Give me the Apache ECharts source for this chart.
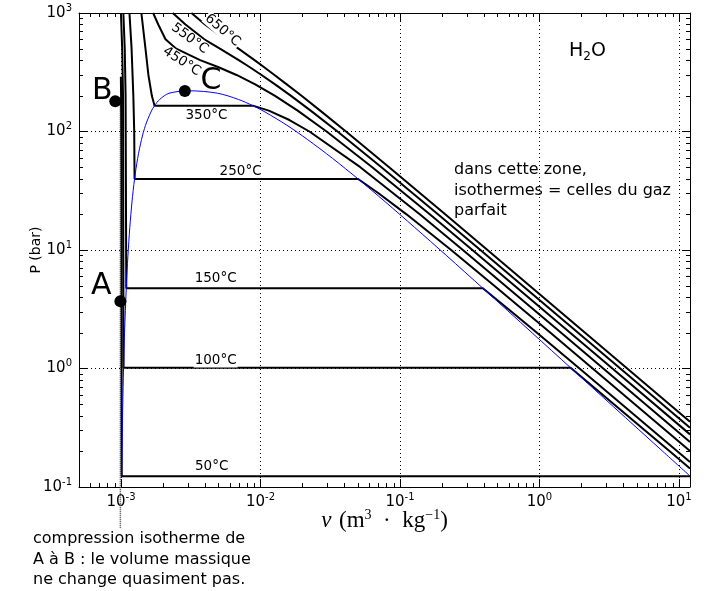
<!DOCTYPE html>
<html>
<head>
<meta charset="utf-8">
<title>Isothermes de l'eau</title>
<script src="https://cdn.jsdelivr.net/npm/echarts@6/dist/echarts.min.js"></script>
<style>
  html, body { margin: 0; padding: 0; background: #fff; }
  #chart { width: 705px; height: 591px; }
</style>
</head>
<body>
<div id="chart"></div>
<script>
// [v (m3/kg), P (bar)]
var iso50 = [[0.000998, 290], [0.001004, 150], [0.001009, 50], [0.001012, 0.1235], [12.03, 0.1235]];
var iso100 = [[0.000999, 1000], [0.001020, 500], [0.001034, 200], [0.001043, 1.014], [1.672, 1.014],
  [3.418, 0.5], [8.585, 0.2], [12, 0.1432]];
var iso150 = [[0.001040, 1000], [0.001064, 500], [0.001079, 200], [0.001091, 4.758], [0.3928, 4.758],
  [0.4708, 4], [0.6339, 3], [0.9596, 2], [1.9367, 1], [3.8897, 0.5], [12, 0.1625]];
var iso250 = [[0.001150, 1000], [0.001191, 500], [0.001226, 200], [0.001244, 100], [0.001251, 39.73],
  [0.05013, 39.73], [0.07058, 30], [0.1114, 20], [0.2327, 10], [0.4744, 5], [1.1988, 2], [2.406, 1], [12, 0.2010]];
var iso350 = [[0.001400, 1000], [0.001498, 500], [0.001572, 300], [0.001665, 200], [0.001740, 165.2],
  [0.008813, 165.2], [0.01147, 150], [0.01613, 125], [0.02242, 100], [0.05194, 50], [0.1386, 20],
  [0.2825, 10], [1.430, 2], [12, 0.2396]];
var iso450 = [[0.00170, 1000], [0.00185, 800], [0.002085, 600], [0.002486, 500], [0.003693, 400],
  [0.004961, 350], [0.006735, 300], [0.009166, 250], [0.01272, 200], [0.018477, 150], [0.029782, 100],
  [0.063291, 50], [0.1635, 20], [0.3304, 10], [3.334, 1], [12, 0.278]];
var iso550 = [[0.00235, 1000], [0.00290, 800], [0.003955, 600], [0.005118, 500], [0.006985, 400],
  [0.008345, 350], [0.010168, 300], [0.012724, 250], [0.01656, 200], [0.0229, 150], [0.03566, 100],
  [0.07365, 50], [0.1871, 20], [0.3772, 10], [3.798, 1], [12, 0.3166]];
var iso650 = [[0.0032, 1000], [0.0040, 800], [0.005595, 600], [0.006957, 500], [0.009063, 400],
  [0.010575, 350], [0.012596, 300], [0.015433, 250], [0.0197, 200], [0.0268, 150], [0.0410, 100],
  [0.0836, 50], [0.2110, 20], [0.4240, 10], [4.257, 1], [12, 0.355]];

// courbe de saturation (liquide puis vapeur)
var dome = [[0.001012, 0.1235], [0.001029, 0.4739], [0.001043, 1.014], [0.001060, 1.985], [0.001091, 4.758],
  [0.001121, 8.92], [0.001157, 15.54], [0.001199, 25.48], [0.001251, 39.73], [0.001317, 59.46],
  [0.001404, 85.81], [0.001499, 112.8], [0.001638, 145.9], [0.001740, 165.2], [0.001895, 186.5],
  [0.002213, 210.4], [0.003106, 220.6], [0.004926, 210.4], [0.006945, 186.5], [0.008813, 165.2],
  [0.01080, 145.9], [0.01549, 112.8], [0.02167, 85.81], [0.03277, 59.46], [0.05013, 39.73],
  [0.07849, 25.48], [0.1272, 15.54], [0.2168, 8.92], [0.3928, 4.758], [0.8915, 1.985], [1.672, 1.014],
  [3.405, 0.4739], [7.667, 0.1995], [12.03, 0.1235]];

var pointA = [0.00099, 3.7];
var pointB = [0.00091, 180];
var pointC = [0.00287, 220];
var compression = [[0.00099, 180], [0.00099, 0.045]];

var isoNames = ['50°C', '100°C', '150°C', '250°C', '350°C', '450°C', '550°C', '650°C'];
var isoData = [iso50, iso100, iso150, iso250, iso350, iso450, iso550, iso650];

// où poser le nom de chaque isotherme, et son angle
var labelAt = [[0.00447, 0.150], [0.00477, 1.168], [0.00477, 5.8], [0.0072, 46.4], [0.0041, 136.4],
  [0.00273, 390], [0.00311, 609], [0.00535, 713]];
var labelRot = [0, 0, 0, 0, 0, -33, -36, -41];

var xMin = 5e-4, xMax = 12, yMin = 0.1, yMax = 1000;

function powLabel(val) {
  var l = Math.log10(val);
  var e = Math.round(l);
  if (Math.abs(l - e) > 1e-6) return '';
  return '{b|10}{s|' + e + '}';
}

var tickRich = {
  b: { fontSize: 15, lineHeight: 20, color: '#000', fontFamily: 'DejaVu Sans' },
  s: { fontSize: 10, verticalAlign: 'top', color: '#000', fontFamily: 'DejaVu Sans' }
};

var chart = echarts.init(document.getElementById('chart'));

var series = [];
isoData.forEach(function (d, i) {
  series.push({
    name: isoNames[i],
    type: 'line',
    data: d,
    showSymbol: false,
    lineStyle: { color: '#000', width: 2 },
    z: 3
  });
});
series.push({
  name: 'saturation',
  type: 'line',
  data: dome,
  showSymbol: false,
  smooth: 0.3,
  lineStyle: { color: '#0000ff', width: 1 },
  z: 4
});
series.push({
  name: 'compression',
  type: 'line',
  data: compression,
  showSymbol: false,
  clip: false,
  lineStyle: { color: '#444', width: 1.5, type: [1, 1] },
  z: 2
});
series.push({
  name: 'points',
  type: 'scatter',
  symbolSize: 12,
  itemStyle: { color: '#000', opacity: 1 },
  label: { show: true, position: 'inside', formatter: '{b}', fontSize: 30, color: '#000', opacity: 1 },
  data: [
    { name: 'A', value: pointA, label: { offset: [-19, -15] } },
    { name: 'B', value: pointB, label: { offset: [-13, -10] } },
    { name: 'C', value: pointC, label: { offset: [26, -10] } }
  ],
  z: 6
});
series.push({
  name: 'noms',
  type: 'scatter',
  symbolSize: 0,
  silent: true,
  itemStyle: { opacity: 1 },
  label: {
    show: true, position: 'inside', formatter: '{b}', fontSize: 13.5, color: '#000', opacity: 1,
    backgroundColor: '#fff', padding: [0, 1]
  },
  data: isoNames.map(function (n, i) {
    return { name: n, value: labelAt[i], label: { rotate: labelRot[i] } };
  }),
  z: 7
});

var option = {
  animation: false,
  textStyle: { fontFamily: 'DejaVu Sans' },
  grid: { left: 79, right: 15, top: 13, bottom: 104 },
  title: {
    text: '{a|H}{b|2}{a|O}',
    left: 564,
    top: 34,
    textStyle: {
      rich: {
        a: { fontSize: 19, lineHeight: 24, fontWeight: 'normal', color: '#000', fontFamily: 'DejaVu Sans' },
        b: { fontSize: 12, lineHeight: 10, fontWeight: 'normal', verticalAlign: 'bottom', color: '#000', fontFamily: 'DejaVu Sans' }
      }
    }
  },
  xAxis: [{
    type: 'log', min: xMin, max: xMax,
    name: '{i|v}  {r|(m}{s|3}{r|  ·  kg}{s|−1}{r|)}',
    nameLocation: 'middle', nameGap: 21, nameMoveOverlap: false,
    nameTextStyle: {
      rich: {
        i: { fontSize: 23, fontStyle: 'italic', fontFamily: 'Liberation Serif', color: '#000', lineHeight: 26 },
        r: { fontSize: 23, fontFamily: 'Liberation Serif', color: '#000', lineHeight: 26 },
        s: { fontSize: 14, fontFamily: 'Liberation Serif', color: '#000', verticalAlign: 'top' }
      }
    },
    axisLine: { show: true, onZero: false, lineStyle: { color: '#000', width: 1 } },
    axisTick: { show: true, inside: true, length: 8, lineStyle: { color: '#000' } },
    axisLabel: { formatter: powLabel, rich: tickRich, margin: 5 },
    splitLine: { show: true, lineStyle: { color: '#000', width: 1, type: [1, 3] } }
  }, {
    type: 'log', min: xMin, max: xMax, position: 'top',
    axisLine: { show: true, onZero: false, lineStyle: { color: '#000', width: 1 } },
    axisTick: { show: true, inside: true, length: 8, lineStyle: { color: '#000' } },
    axisLabel: { show: false },
    splitLine: { show: false }
  }],
  yAxis: [{
    type: 'log', min: yMin, max: yMax,
    name: 'P (bar)', nameLocation: 'middle', nameGap: 36, nameRotate: 90, nameMoveOverlap: false,
    nameTextStyle: { fontSize: 14, color: '#000', fontFamily: 'DejaVu Sans' },
    axisLine: { show: true, onZero: false, lineStyle: { color: '#000', width: 1 } },
    axisTick: { show: true, inside: true, length: 8, lineStyle: { color: '#000' } },
    axisLabel: { formatter: powLabel, rich: tickRich, margin: 7 },
    splitLine: { show: true, lineStyle: { color: '#000', width: 1, type: [1, 3] } }
  }, {
    type: 'log', min: yMin, max: yMax, position: 'right',
    axisLine: { show: true, onZero: false, lineStyle: { color: '#000', width: 1 } },
    axisTick: { show: true, inside: true, length: 8, lineStyle: { color: '#000' } },
    axisLabel: { show: false },
    splitLine: { show: false }
  }],
  series: series
};

chart.setOption(option);

// petites graduations 2..9 x 10^k sur les quatre cotes
function tickLine(x1, y1, x2, y2) {
  return { type: 'line', silent: true, z: 10,
    shape: { x1: x1, y1: y1, x2: x2, y2: y2 },
    style: { stroke: '#000', lineWidth: 1 } };
}
var gfx = [];
var tl = chart.convertToPixel({ gridIndex: 0 }, [xMin, yMax]);
var br = chart.convertToPixel({ gridIndex: 0 }, [xMax, yMin]);
for (var k = -4; k <= 2; k++) {
  for (var m = 2; m <= 9; m++) {
    var v = m * Math.pow(10, k);
    if (v > xMin && v < xMax) {
      var px = Math.round(chart.convertToPixel({ xAxisIndex: 0 }, v)) + 0.5;
      gfx.push(tickLine(px, br[1], px, br[1] - 4));
      gfx.push(tickLine(px, tl[1], px, tl[1] + 4));
    }
    if (v > yMin && v < yMax) {
      var py = Math.round(chart.convertToPixel({ yAxisIndex: 0 }, v)) + 0.5;
      gfx.push(tickLine(tl[0], py, tl[0] + 4, py));
      gfx.push(tickLine(br[0], py, br[0] - 4, py));
    }
  }
}
gfx.push({
  type: 'text', x: 454, y: 160, z: 10,
  style: { text: 'dans cette zone,\nisothermes = celles du gaz\nparfait', fontSize: 16,
    fontFamily: 'DejaVu Sans', fill: '#000', lineHeight: 20.5, verticalAlign: 'top' }
});
gfx.push({
  type: 'text', x: 33, y: 529, z: 10,
  style: { text: 'compression isotherme de\nA à B : le volume massique\nne change quasiment pas.', fontSize: 16,
    fontFamily: 'DejaVu Sans', fill: '#000', lineHeight: 20.5, verticalAlign: 'top' }
});
chart.setOption({ graphic: gfx });
</script>
</body>
</html>
